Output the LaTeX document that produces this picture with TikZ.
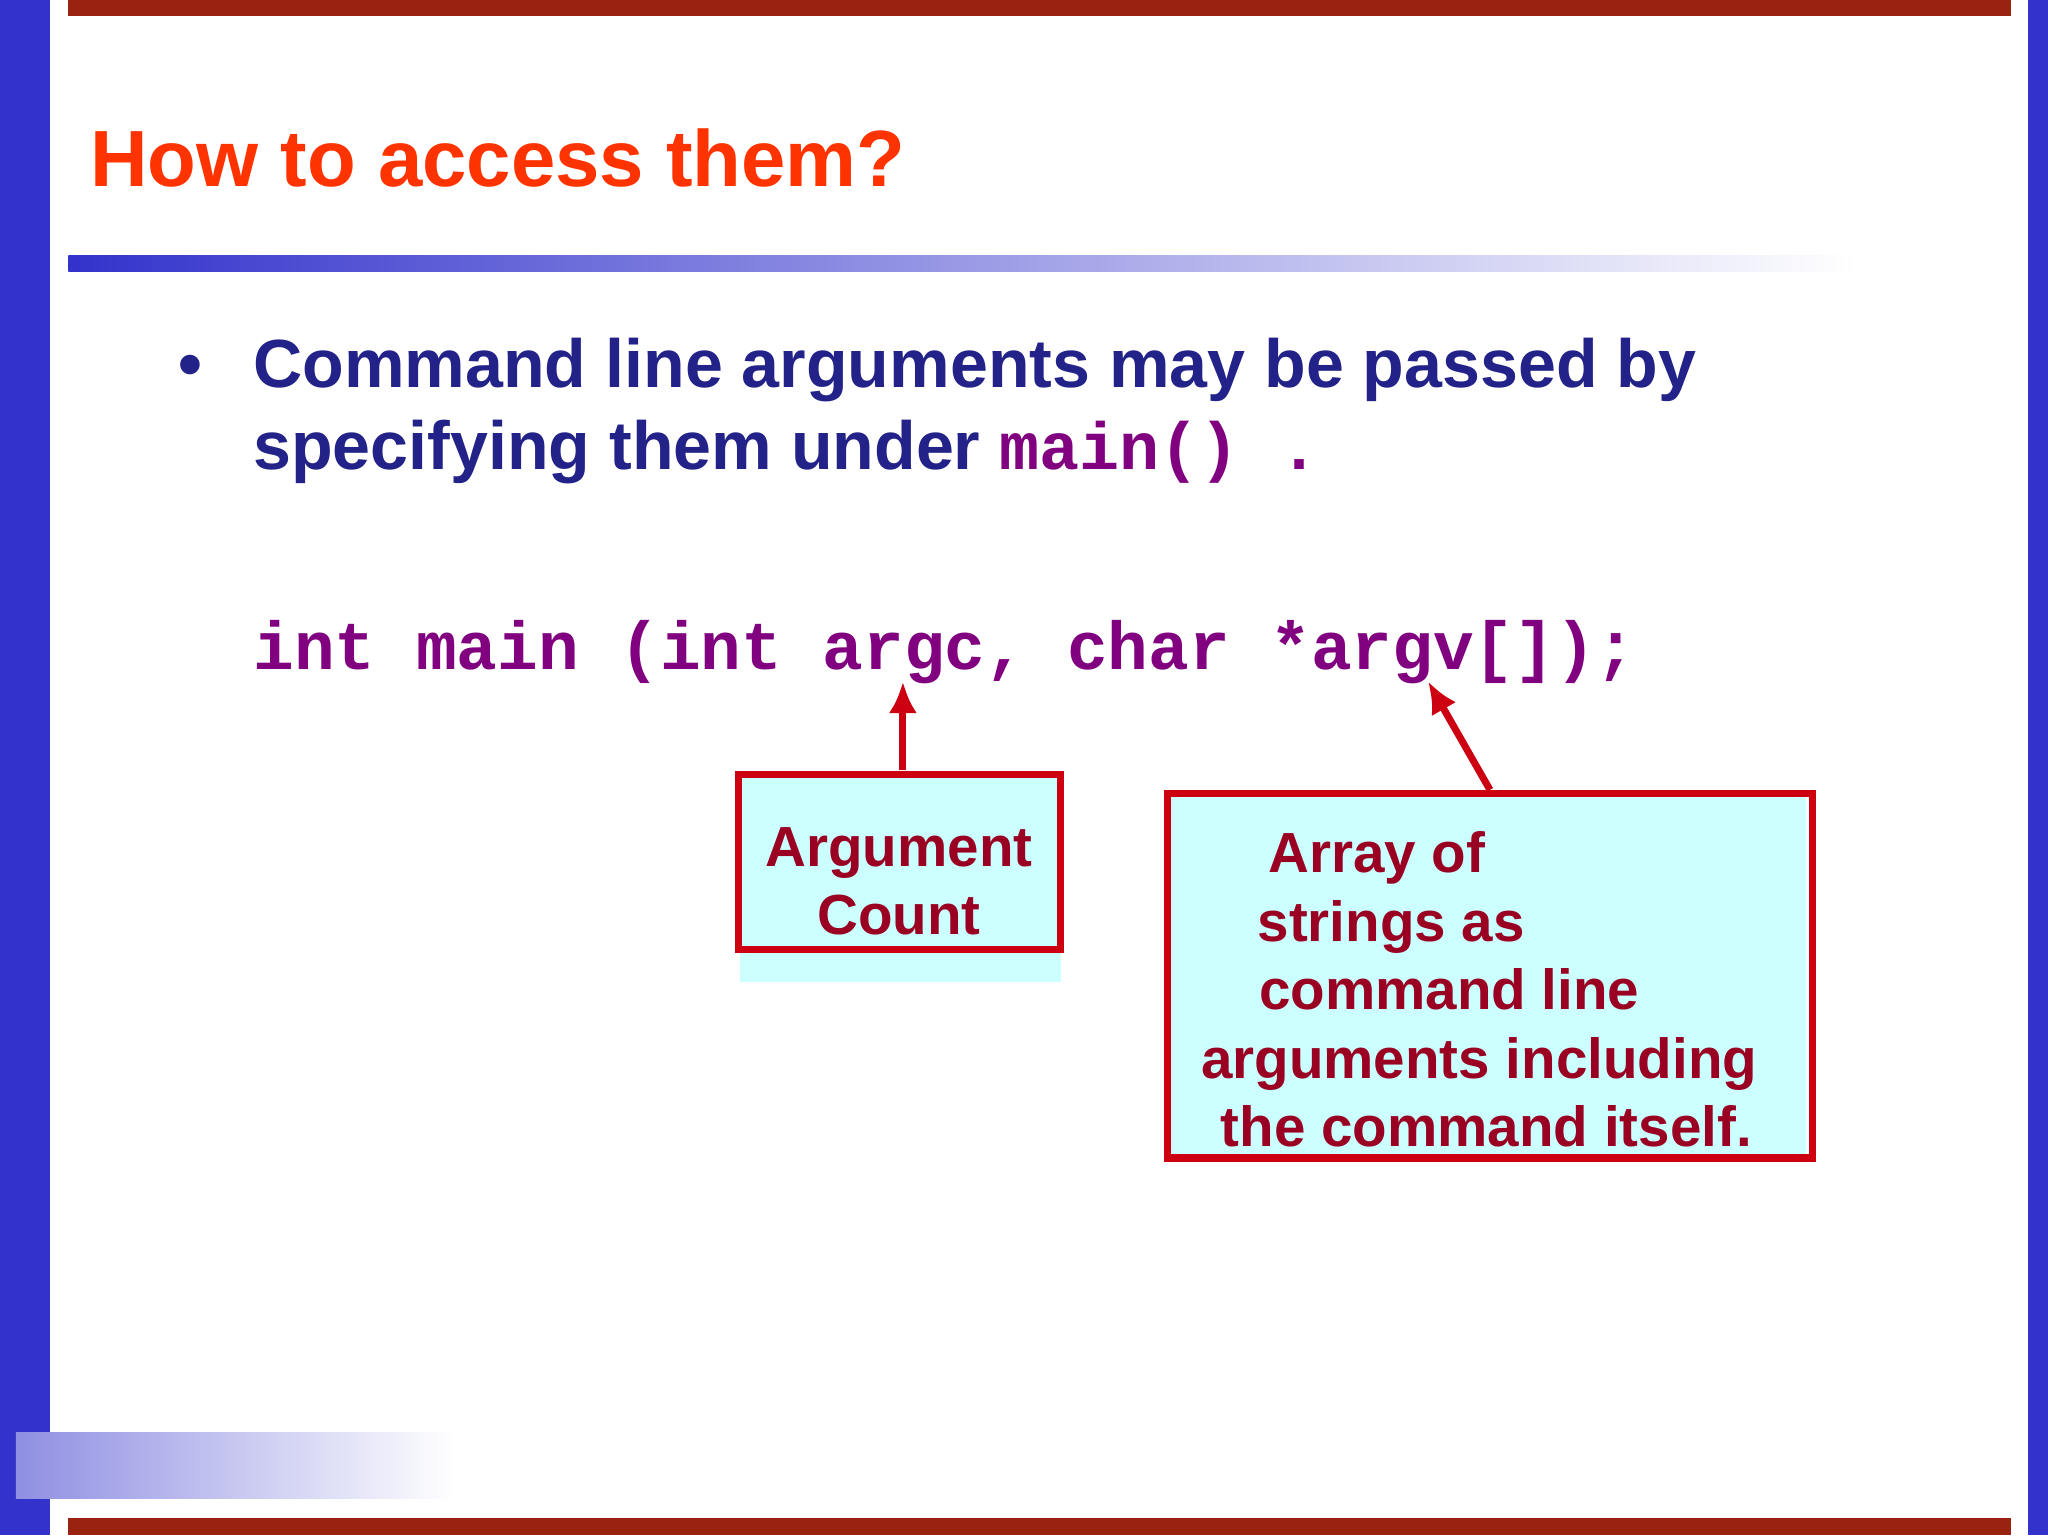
\documentclass[tikz,border=0pt]{standalone}
\usepackage{fontspec}
\usetikzlibrary{arrows.meta}
\setmainfont{Liberation Sans}
\setmonofont{Liberation Mono}
\definecolor{sideblue}{HTML}{3333CC}
\definecolor{barred}{HTML}{992211}
\definecolor{titleor}{HTML}{FF3300}
\definecolor{bodyblue}{HTML}{222288}
\definecolor{codepur}{HTML}{800080}
\definecolor{boxred}{HTML}{CC0011}
\definecolor{boxtext}{HTML}{990022}
\definecolor{boxfill}{HTML}{CCFFFF}
\begin{document}
\begin{tikzpicture}[x=0.013162cm,y=-0.013061cm,
  boxtxt/.style={text=boxtext,font=\fontsize{16.1}{19}\selectfont\bfseries,anchor=base west,inner sep=0},
  bodytxt/.style={text=bodyblue,font=\fontsize{19.4}{23}\selectfont\bfseries,anchor=base west,inner sep=0},
  arr/.style={draw=boxred,line width=2pt,-{Latex[length=9pt,width=8pt]}}]
\useasboundingbox (0,0) rectangle (1556,1176);
\fill[white] (0,0) rectangle (1556,1176);
\fill[sideblue] (0,0) rectangle (38,1176);
\fill[sideblue] (1541,0) rectangle (1556,1176);
\fill[barred] (52,0) rectangle (1528,12);
\fill[barred] (52,1163) rectangle (1528,1176);
\shade[left color=sideblue,right color=white] (52,196) rectangle (1410,208);
\shade[left color=sideblue!55,right color=white] (12,1097) rectangle (345,1148);
\node[anchor=base west,inner sep=0,text=titleor,font=\fontsize{22.7}{26}\selectfont\bfseries] (title) at (68,143) {How to access them?};
\node[bodytxt] (bul) at (135,297) {\textbullet};
\node[bodytxt] (l1) at (192,297) {Command line arguments may be passed by};
\node[bodytxt] (l2) at (192,360) {specifying them under \textcolor{codepur}{\ttfamily\fontsize{19}{22}\selectfont main() .}};
\node[anchor=base west,inner sep=0,text=codepur,font=\ttfamily\bfseries\fontsize{19.3}{22}\selectfont] (code) at (192,513) {int main (int argc, char *argv[]);};
% box 1
\fill[boxfill] (562,593) rectangle (806,752);
\draw[boxred,line width=2pt] (561,593) rectangle (806,727);
\node[boxtxt,anchor=base] (b1a) at (683,664) {Argument};
\node[boxtxt,anchor=base] (b1b) at (683,716) {Count};
\coordinate (a1s) at (686,590);
\coordinate (a1e) at (686,522);
\draw[arr] (a1s) -- (a1e);
% box 2
\fill[boxfill] (889,610) rectangle (1372,885);
\draw[boxred,line width=2pt] (887,608) rectangle (1377,887);
\node[boxtxt] (t1) at (963,668) {Array of};
\node[boxtxt] (t2) at (955,721) {strings as};
\node[boxtxt] (t3) at (956,773) {command line};
\node[boxtxt] (t4) at (912,826) {arguments including};
\node[boxtxt] (t5) at (927,878) {the command itself.};
\coordinate (a2s) at (1132,605);
\coordinate (a2e) at (1085,522);
\draw[arr] (a2s) -- (a2e);
\end{tikzpicture}
\end{document}
